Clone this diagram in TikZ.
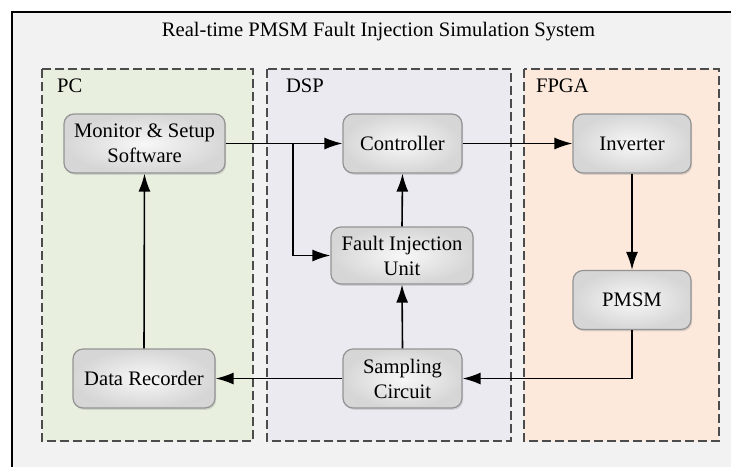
\documentclass[tikz,border=0pt]{standalone}
\usepackage{fontspec}
\setmainfont{Liberation Serif}
\usepackage{xcolor}
\usepackage{tikz}
\usetikzlibrary{
	arrows.meta,
	shadows,
	positioning
}

\definecolor{pcfill}{HTML}{E9EFDF}
\definecolor{dspfill}{HTML}{ECEAF1}
\definecolor{fpgafill}{HTML}{FCE9DC}
\definecolor{framefill}{HTML}{F2F2F2}

\tikzset{
	block/.style={draw=gray!85, line width=0.6pt, rounded corners=5pt,
		shading=radial, inner color=gray!6, outer color=gray!32,
		drop shadow={shadow xshift=0.6pt, shadow yshift=-0.9pt, opacity=0.25},
		align=center, inner sep=2pt, minimum height=29.5pt,
		font=\fontsize{10.3}{12.5}\selectfont},
	region/.style={draw=black!70, dash pattern=on 4.5pt off 2pt, line width=0.6pt},
	arr/.style={-{Latex[length=9pt, width=6pt]}, line width=0.8pt}
}

\begin{document}
\begin{tikzpicture}[x=0.5pt, y=-0.5pt, font=\fontsize{10.3}{12.5}\selectfont]
				\useasboundingbox (0, 0) rectangle (731, 466) ;
				\clip (0, 0) rectangle (731, 466) ;

				\def\top{69}
				\def\bot{441}

				\draw[fill=framefill, line width=0.6pt] (12, 12) rectangle (760, 490) ;
				\node (title) at (378.5, 32) {Real-time PMSM Fault Injection Simulation System} ;

				\fill[pcfill] (42, \top) rectangle (253, \bot) ;
				\draw[region] (42, \top) rectangle (253, \bot) ;
				\fill[dspfill] (267, \top) rectangle (511, \bot) ;
				\draw[region] (267, \top) rectangle (511, \bot) ;
				\fill[fpgafill] (524, \top) rectangle (719, \bot) ;
				\draw[region] (524, \top) rectangle (719, \bot) ;

				\node[anchor=west] (pc) at (50, 86) {PC} ;
				\node[anchor=west] (dsp) at (279, 86) {DSP} ;
				\node[anchor=west] (fpga) at (529, 86) {FPGA} ;

				\node[block, minimum width=80.5pt] (mon) at (144.5, 143.5) {Monitor \& Setup\\Software} ;
				\node[block, minimum width=59.5pt] (ctrl) at (402.5, 143.5) {Controller} ;
				\node[block, minimum width=59pt] (inv) at (632, 143.5) {Inverter} ;
				\node[block, minimum width=71pt, minimum height=28.5pt] (fiu) at (402, 255.5) {Fault Injection\\Unit} ;
				\node[block, minimum width=59pt] (pmsm) at (632, 300) {PMSM} ;
				\node[block, minimum width=59.5pt] (samp) at (402.5, 378.5) {Sampling\\Circuit} ;
				\node[block, minimum width=71pt] (rec) at (144, 378.5) {Data Recorder} ;

				\coordinate (split) at (293, 143.5) ;

				\draw[arr] (mon.east) -- (ctrl.west) ;
				\draw[arr] (split) |- (fiu.west) ;
				\draw[arr] (ctrl.east) -- (inv.west) ;
				\draw[arr] (inv.south) -- (pmsm.north) ;
				\draw[arr] (pmsm.south) |- (samp.east) ;
				\draw[arr] (samp.north) -- (fiu.south) ;
				\draw[arr] (fiu.north) -- (ctrl.south) ;
				\draw[arr] (samp.west) -- (rec.east) ;
				\draw[arr] (rec.north) -- (mon.south) ;
			\end{tikzpicture}
\end{document}
